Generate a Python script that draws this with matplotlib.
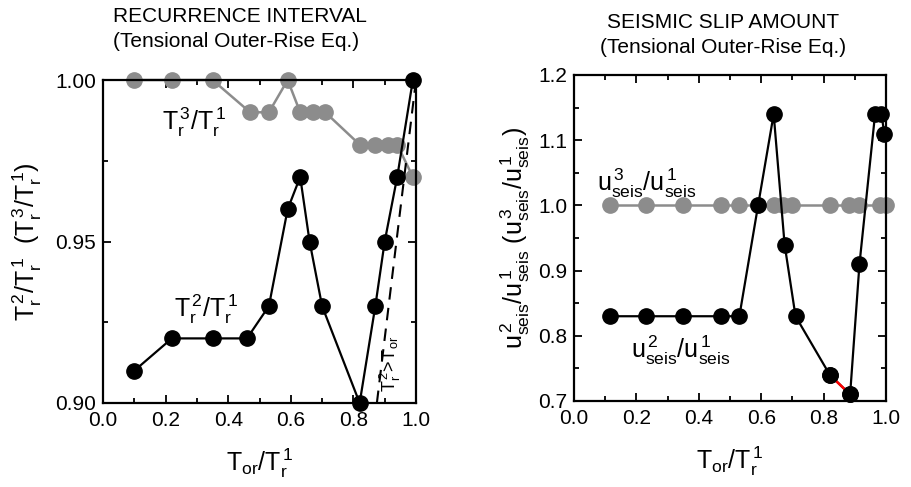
import matplotlib
matplotlib.use("Agg")
import matplotlib.pyplot as plt
from matplotlib.ticker import MultipleLocator, FormatStrFormatter

plt.rcParams['font.family'] = ['Liberation Sans', 'DejaVu Sans']
plt.rcParams['mathtext.fontset'] = 'custom'
plt.rcParams['mathtext.rm'] = 'Liberation Sans'
plt.rcParams['mathtext.it'] = 'Liberation Sans'
plt.rcParams['mathtext.default'] = 'regular'

# ---- Left panel data (recurrence interval) ----
rx = [0.10, 0.22, 0.35, 0.46, 0.53, 0.59, 0.63, 0.66, 0.70, 0.82, 0.87, 0.90, 0.94, 0.99]
tr2 = [0.91, 0.92, 0.92, 0.92, 0.93, 0.96, 0.97, 0.95, 0.93, 0.90, 0.93, 0.95, 0.97, 1.00]
rx3 = [0.10, 0.22, 0.35, 0.47, 0.53, 0.59, 0.63, 0.67, 0.71, 0.82, 0.87, 0.91, 0.94, 0.99]
tr3 = [1.00, 1.00, 1.00, 0.99, 0.99, 1.00, 0.99, 0.99, 0.99, 0.98, 0.98, 0.98, 0.98, 0.97]
dash_x = [0.875, 1.0]
dash_y = [0.90, 1.00]

# ---- Right panel data (seismic slip amount) ----
ux2 = [0.115, 0.23, 0.35, 0.47, 0.53, 0.59, 0.64, 0.675, 0.71, 0.82, 0.885, 0.915, 0.965, 0.985, 0.995]
us2 = [0.83, 0.83, 0.83, 0.83, 0.83, 1.00, 1.14, 0.94, 0.83, 0.74, 0.71, 0.91, 1.14, 1.14, 1.11]
ux3 = [0.115, 0.23, 0.35, 0.47, 0.53, 0.59, 0.64, 0.67, 0.70, 0.82, 0.88, 0.915, 0.98, 1.00]
us3 = [1.00] * 14

GRAY = '#8c8c8c'
W, H = 911, 487
fig = plt.figure(figsize=(W / 100, H / 100), dpi=100)

ax1 = fig.add_axes([103 / W, 1 - 403 / H, 313 / W, 323 / H])
ax2 = fig.add_axes([574 / W, 1 - 401 / H, 312 / W, 326 / H])

for ax in (ax1, ax2):
    for s in ax.spines.values():
        s.set_linewidth(1.6)
    ax.tick_params(which='both', direction='in', top=True, right=True, labelsize=15, width=1.3)
    ax.tick_params(which='major', length=6)
    ax.tick_params(axis='x', which='major', pad=6)
    ax.tick_params(axis='y', which='major', pad=5)
    ax.tick_params(which='minor', length=3.5)
    ax.set_xlim(0, 1.0)
    ax.xaxis.set_major_locator(MultipleLocator(0.2))
    ax.xaxis.set_minor_locator(MultipleLocator(0.1))
    ax.xaxis.set_major_formatter(FormatStrFormatter('%.1f'))
    ax.set_xlabel(r'$T_{or}/T_r^{\,1}$', fontsize=18, labelpad=12)

# Left
ax1.plot(rx3, tr3, '-o', color=GRAY, lw=1.8, ms=11, clip_on=False, zorder=2)
ax1.plot(dash_x, dash_y, '--', color='black', lw=1.5, dashes=(6, 4), zorder=3)
ax1.plot(rx, tr2, '-o', color='black', lw=1.6, ms=11, clip_on=False, zorder=4)
ax1.set_ylim(0.90, 1.00)
ax1.yaxis.set_major_locator(MultipleLocator(0.05))
ax1.yaxis.set_minor_locator(MultipleLocator(0.025))
ax1.yaxis.set_major_formatter(FormatStrFormatter('%.2f'))
ax1.set_ylabel(r'$T_r^{\,2}/T_r^{\,1}$  $(T_r^{\,3}/T_r^{\,1})$', fontsize=18, labelpad=8)
ax1.text(0.29, 0.987, r'$T_r^{\,3}/T_r^{\,1}$', fontsize=18, ha='center', va='center')
ax1.text(0.33, 0.929, r'$T_r^{\,2}/T_r^{\,1}$', fontsize=18, ha='center', va='center')
ax1.text(0.917, 0.912, r'$T_r^{\,2}\!>\!T_{or}$', fontsize=13, rotation=90, ha='center', va='center')

# Right
ax2.plot(ux3, us3, '-o', color=GRAY, lw=1.8, ms=11, clip_on=False, zorder=2)
ax2.plot(ux2, us2, '-o', color='black', lw=1.6, ms=11, clip_on=False, zorder=4)
ax2.plot(ux2[9:11], us2[9:11], '-', color='red', lw=1.8, zorder=4.5)
ax2.plot(ux2[9:11], us2[9:11], 'o', color='black', ms=11, clip_on=False, zorder=5)
ax2.set_ylim(0.7, 1.2)
ax2.yaxis.set_major_locator(MultipleLocator(0.1))
ax2.yaxis.set_minor_locator(MultipleLocator(0.05))
ax2.yaxis.set_major_formatter(FormatStrFormatter('%.1f'))
ax2.set_ylabel(r'$u_{seis}^{\,2}/u_{seis}^{\,1}$ $(u_{seis}^{\,3}/u_{seis}^{\,1})$', fontsize=18, labelpad=4)
ax2.text(0.234, 1.034, r'$u_{seis}^{\,3}/u_{seis}^{\,1}$', fontsize=18, ha='center', va='center')
ax2.text(0.343, 0.778, r'$u_{seis}^{\,2}/u_{seis}^{\,1}$', fontsize=18, ha='center', va='center')

# Titles
fig.text(113 / W, 1 - 22 / H, 'RECURRENCE INTERVAL', fontsize=15, ha='left', va='baseline')
fig.text(113 / W, 1 - 47 / H, '(Tensional Outer-Rise Eq.)', fontsize=15, ha='left', va='baseline')
fig.text(723 / W, 1 - 28 / H, 'SEISMIC SLIP AMOUNT', fontsize=15, ha='center', va='baseline')
fig.text(723 / W, 1 - 53 / H, '(Tensional Outer-Rise Eq.)', fontsize=15, ha='center', va='baseline')

fig.savefig('out.png', dpi=100)
